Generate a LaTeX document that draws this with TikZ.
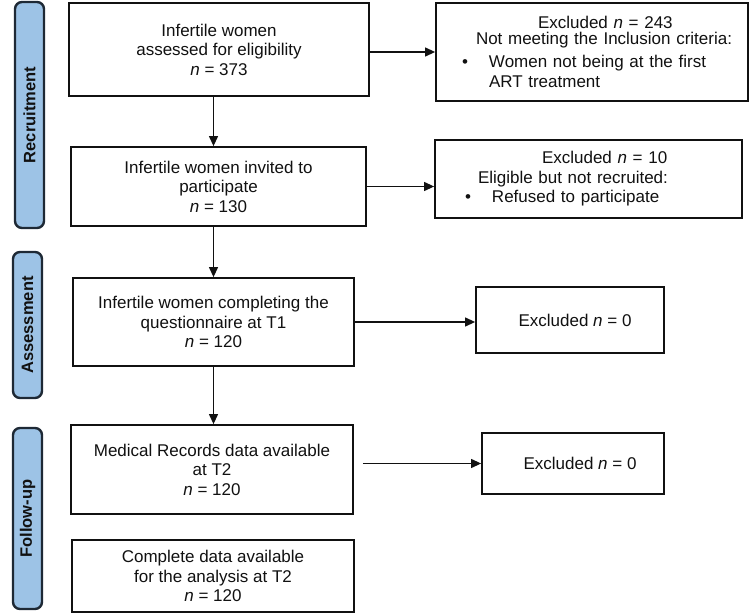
\documentclass[tikz,border=0pt]{standalone}
\usepackage{fontspec}
\setmainfont{Liberation Sans}
\usepackage{tikz}
\usetikzlibrary{arrows.meta,positioning,calc}
\definecolor{ink}{HTML}{111111}
\definecolor{barblue}{HTML}{9DC3E6}
\definecolor{bardark}{HTML}{1E2935}
\tikzset{
  >={Triangle[length=10pt,width=9pt]},
  every node/.style={font=\fontsize{17pt}{19.5pt}\selectfont,text=ink},
  stage/.style={draw=ink,line width=1.8pt,fill=white,align=center,inner sep=2pt},
  exbox/.style={stage,align=left},
  phase/.style={draw=bardark,line width=2.4pt,rounded corners=7pt,fill=barblue,rotate=90,minimum height=29pt,font=\fontsize{16.5pt}{18pt}\selectfont\bfseries},
  flow/.style={->,line width=1.2pt,draw=ink}
}

\begin{document}
\begin{tikzpicture}[x=1pt,y=-1pt]
  \useasboundingbox (0,0) rectangle (750,615);

  % phase bars
  \node[phase,minimum width=226pt] (recruit) at (29.5,115) {Recruitment};
  \node[phase,minimum width=146pt] (assess) at (27.5,325) {Assessment};
  \node[phase,minimum width=181pt] (follow) at (27.5,518.5) {Follow-up};

  % main flow
  \node[stage,minimum width=300pt,minimum height=93pt] (assessed) at (219,49.5) {Infertile women\\assessed for eligibility\\\textit{n} = 373};
  \node[stage,minimum width=295pt,minimum height=79pt] (invited) at (218.5,186.5) {Infertile women invited to\\participate\\\textit{n} = 130};
  \node[stage,minimum width=281pt,minimum height=88pt] (completed) at (213.5,322) {Infertile women completing the\\questionnaire at T1\\\textit{n} = 120};
  \node[stage,minimum width=282pt,minimum height=89pt] (records) at (212,469.5) {Medical Records data available\\at T2\\\textit{n} = 120};
  \node[stage,minimum width=282pt,minimum height=72pt] (analysed) at (213,576) {Complete data available\\for the analysis at T2\\\textit{n} = 120};

  % exclusions
  \node[exbox,minimum width=312pt,minimum height=98pt,text width=300pt] (excl1) at (592,52) {\hspace*{96pt}Excluded \textit{n} = 243\\[-3.5pt]\hspace*{34pt}\mbox{Not meeting the Inclusion criteria:}\\[3.5pt]\hspace*{20pt}\makebox[27pt][l]{\textbullet}Women not being at the first\\\hspace*{47pt}ART treatment};
  \node[exbox,minimum width=307pt,minimum height=78pt,text width=249pt] (excl2) at (588.5,179) {\hspace*{78pt}Excluded \textit{n} = 10\\\hspace*{14pt}Eligible but not recruited:\\\hspace*{1pt}\makebox[27pt][l]{\textbullet}Refused to participate};
  \node[stage,minimum width=188pt,minimum height=66pt] (excl3) at (570,320) {\hspace*{10pt}Excluded \textit{n} = 0};
  \node[stage,minimum width=182pt,minimum height=61pt] (excl4) at (573,463.5) {\hspace*{14pt}Excluded \textit{n} = 0};

  \draw[flow] (assessed.south -| completed) -- (invited.north -| completed);
  \draw[flow] (invited.south -| completed) -- (completed.north);
  \draw[flow] (completed.south) -- (records.north -| completed);

  \draw[flow] (assessed.east |- excl1.west) -- (excl1.west);
  \draw[flow] (invited.east) -- (invited.east -| excl2.west);
  \draw[flow] (completed.east) -- (completed.east -| excl3.west);
  \draw[flow,shorten <=9pt] (records.east |- excl4.west) -- (excl4.west);
\end{tikzpicture}
\end{document}
